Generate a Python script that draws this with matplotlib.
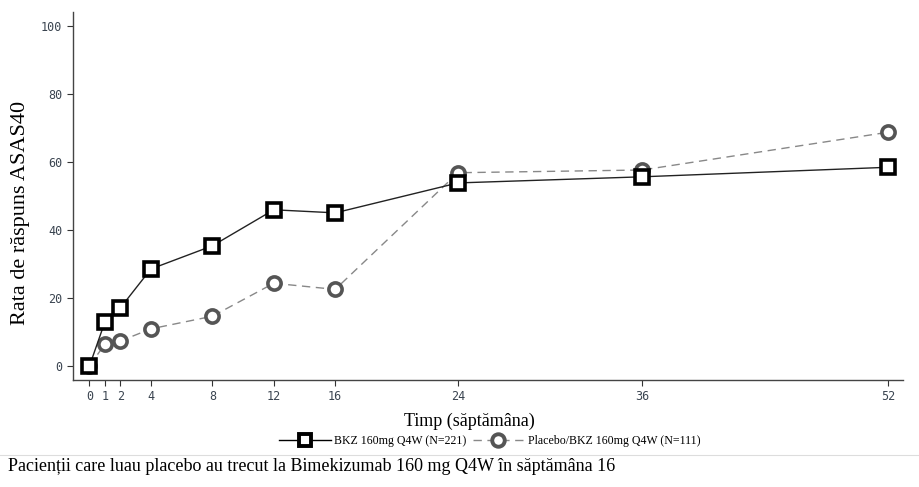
import matplotlib
matplotlib.use('Agg')
import matplotlib.pyplot as plt
from matplotlib.lines import Line2D

weeks = [0, 1, 2, 4, 8, 12, 16, 24, 36, 52]
bkz = [0, 12.9, 17.0, 28.5, 35.3, 45.9, 45.0, 53.8, 55.6, 58.4]
placebo = [0, 6.4, 7.3, 10.9, 14.6, 24.3, 22.5, 56.8, 57.6, 68.7]
yticks = [0, 20, 40, 60, 80, 100]

serif = 'Liberation Serif'
tick_font = 'DejaVu Sans Mono'

fig = plt.figure(figsize=(9.19, 4.87), dpi=100)
ax = fig.add_axes([0.079, 0.22, 0.904, 0.755])

ax.plot(weeks, bkz, color='#222222', lw=1.0, marker='s', markersize=9.5,
        markerfacecolor='white', markeredgecolor='black', markeredgewidth=2.6,
        label='BKZ 160mg Q4W (N=221)', zorder=3)
ax.plot(weeks, placebo, color='#888888', lw=1.0, ls=(0, (6, 4)), marker='o',
        markersize=9.5, markerfacecolor='white', markeredgecolor='#555555',
        markeredgewidth=2.6, label='Placebo/BKZ 160mg Q4W (N=111)', zorder=2)

ax.set_xlim(-1.1, 53.0)
ax.set_ylim(-4.1, 104)
ax.set_xticks(weeks)
ax.set_yticks(yticks)
ax.tick_params(axis='both', labelsize=8.5, colors='#333333', length=4, width=0.8)
for lab in ax.get_xticklabels() + ax.get_yticklabels():
    lab.set_family(tick_font)
    lab.set_color('#3a4450')

for s in ['top', 'right']:
    ax.spines[s].set_visible(False)
for s in ['left', 'bottom']:
    ax.spines[s].set_color('#444444')
    ax.spines[s].set_linewidth(1.0)

ax.set_xlabel('Timp (săptămâna)', family=serif, fontsize=13)
ax.xaxis.set_label_coords(0.478, -0.09)
fig.text(0.022, 0.562, 'Rata de răspuns ASAS40', family=serif, fontsize=16,
         rotation=90, ha='center', va='center')

handles = [
    Line2D([], [], color='black', lw=1.0, marker='s', markersize=9,
           markerfacecolor='white', markeredgecolor='black', markeredgewidth=2.8),
    Line2D([], [], color='#888888', lw=1.0, ls=(0, (6, 4)), marker='o', markersize=9,
           markerfacecolor='white', markeredgecolor='#555555', markeredgewidth=2.8),
]
fig.legend(handles, ['BKZ 160mg Q4W (N=221)', 'Placebo/BKZ 160mg Q4W (N=111)'],
           loc='center', bbox_to_anchor=(0.533, 0.095), ncol=2, frameon=False,
           prop={'family': serif, 'size': 8.6}, handlelength=4.3, columnspacing=0.5,
           handletextpad=0.3)

fig.add_artist(Line2D([0.0, 1.0], [0.066, 0.066], transform=fig.transFigure,
                      color='#dddddd', lw=0.8))
fig.text(0.009, 0.043, 'Pacienții care luau placebo au trecut la Bimekizumab 160 mg Q4W în săptămâna 16',
         family=serif, fontsize=13, va='center', ha='left')

fig.savefig('out.png', dpi=100)
